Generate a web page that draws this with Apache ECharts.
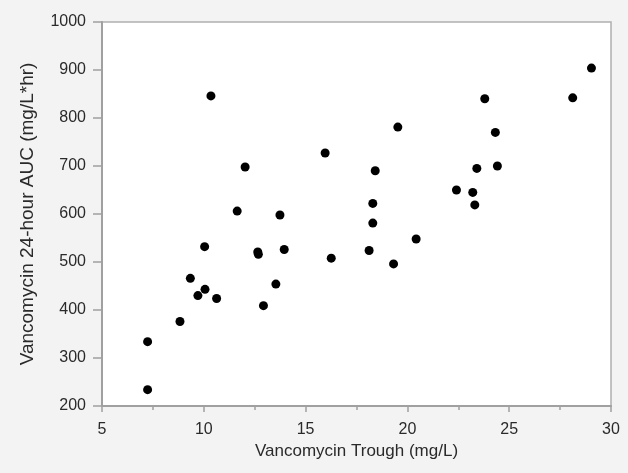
<!DOCTYPE html>
<html>
<head>
<meta charset="utf-8">
<script src="https://cdn.jsdelivr.net/npm/echarts@6/dist/echarts.min.js"></script>
<style>
html,body{margin:0;padding:0;background:#f3f3f3;}
#c{width:628px;height:473px;}
</style>
</head>
<body>
<div id="c"></div>
<script>
const troughValues = [10.35, 15.96, 12.03, 11.64, 13.74, 10.04, 12.65, 12.68, 13.95, 16.26,
  9.34, 10.06, 9.71, 10.63, 13.54, 12.93, 8.83, 7.24, 7.24,
  29.04, 28.12, 23.80, 19.53, 24.32, 18.42, 23.41, 24.42, 22.41, 23.21,
  23.31, 18.30, 18.30, 20.43, 18.12, 19.32];
const aucValues = [846, 727, 698, 606, 598, 532, 521, 516, 526, 508,
  466, 443, 430, 424, 454, 409, 376, 334, 234,
  904, 842, 840, 781, 770, 690, 695, 700, 650, 645,
  619, 622, 581, 548, 524, 496];
const xAxisTitle = 'Vancomycin Trough (mg/L)';
const yAxisTitle = 'Vancomycin 24-hour AUC (mg/L*hr)';

const points = troughValues.map((x, i) => [x, aucValues[i]]);

const chart = echarts.init(document.getElementById('c'), null, {renderer: 'canvas'});
const axisColor = '#a0a0a0';
const textColor = '#2a2a2a';
const font = 'Liberation Sans, Arial, sans-serif';
chart.setOption({
  backgroundColor: '#f3f3f3',
  animation: false,
  grid: {
    left: 102, right: 17, top: 22, bottom: 67,
    show: true, backgroundColor: '#ffffff', borderColor: '#b0b0b0', borderWidth: 1.5
  },
  xAxis: {
    type: 'value', min: 5, max: 30, interval: 5,
    name: xAxisTitle, nameLocation: 'middle', nameGap: 36,
    nameTextStyle: {color: textColor, fontSize: 17, fontFamily: font},
    axisLine: {show: true, lineStyle: {color: axisColor, width: 2}},
    axisTick: {show: true, length: 6, lineStyle: {color: axisColor, width: 1.5}},
    minorTick: {show: true, splitNumber: 2, length: 4, lineStyle: {color: axisColor, width: 1.5}},
    axisLabel: {color: textColor, fontSize: 16, fontFamily: font, margin: 16},
    splitLine: {show: false}
  },
  yAxis: {
    type: 'value', min: 200, max: 1000, interval: 100,
    name: yAxisTitle, nameLocation: 'middle', nameGap: 65, nameRotate: 90,
    nameTextStyle: {color: textColor, fontSize: 19, fontFamily: font},
    axisLine: {show: true, lineStyle: {color: axisColor, width: 2}},
    axisTick: {show: true, length: 9, lineStyle: {color: axisColor, width: 1.5}},
    axisLabel: {color: textColor, fontSize: 16, fontFamily: font, margin: 16,
      formatter: v => String(v)},
    splitLine: {show: false}
  },
  series: [{
    type: 'scatter',
    data: points,
    symbol: 'circle',
    symbolSize: 9,
    itemStyle: {color: '#000000', opacity: 1}
  }]
});
</script>
</body>
</html>
